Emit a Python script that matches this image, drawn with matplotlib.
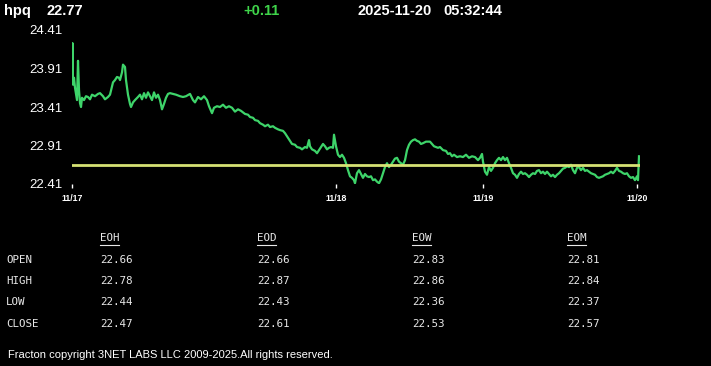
import numpy as np
import matplotlib
matplotlib.use('Agg')
import matplotlib.pyplot as plt
from matplotlib.lines import Line2D

## Quote header
symbol = 'hpq'
last_price = '22.77'
change = '+0.11'
quote_date = '2025-11-20'
quote_time = '05:32:44'

## Intraday trace (time index, price), one list per session
day1 = [(0, 23.76), (0.5, 24.24), (1, 23.70), (2, 23.79), (3, 23.66), (5, 23.50), (6, 24.01), (7, 23.63), (8, 23.46), (9, 23.41),
        (10, 23.53), (12, 23.50), (14, 23.55), (16, 23.54), (18, 23.51), (20, 23.57), (23, 23.55), (26, 23.58), (28, 23.59), (31, 23.55),
        (33, 23.51), (36, 23.54), (38, 23.57), (41, 23.73), (43, 23.76), (45, 23.80), (47, 23.79), (48, 23.76), (50, 23.86), (51, 23.96),
        (53, 23.93), (54, 23.76), (56, 23.57), (58, 23.45), (59, 23.41), (61, 23.47), (63, 23.50), (66, 23.54), (68, 23.57), (70, 23.51),
        (72, 23.59), (74, 23.53), (76, 23.60), (78, 23.55), (80, 23.50), (82, 23.60), (84, 23.53), (86, 23.57), (88, 23.50), (90, 23.38),
        (92, 23.45), (94, 23.53), (96, 23.58), (98, 23.59), (101, 23.58), (104, 23.57), (108, 23.55), (111, 23.54), (114, 23.55), (118, 23.58),
        (121, 23.50), (123, 23.47), (126, 23.54), (129, 23.51), (132, 23.55), (135, 23.50), (137, 23.42), (140, 23.33), (142, 23.40), (145, 23.42),
        (148, 23.41), (151, 23.44), (154, 23.40), (157, 23.42), (160, 23.40), (163, 23.35), (166, 23.38), (169, 23.36), (173, 23.32), (176, 23.31),
        (178, 23.28), (181, 23.27), (183, 23.24), (186, 23.23), (188, 23.20), (191, 23.18), (193, 23.16), (196, 23.18), (198, 23.15), (201, 23.16),
        (203, 23.14), (206, 23.12), (208, 23.11), (211, 23.10), (213, 23.07), (215, 23.03), (217, 22.99), (220, 22.93), (223, 22.92), (225, 22.89),
        (228, 22.88), (230, 22.86), (233, 22.89), (235, 22.88), (237, 22.98), (238, 22.90), (240, 22.86), (243, 22.84), (245, 22.81), (247, 22.85),
        (249, 22.89), (251, 22.93), (253, 22.90), (255, 22.86), (257, 22.88), (259, 22.89), (261, 22.88), (262, 23.05), (264, 22.90)]
day2 = [(266, 22.79), (268, 22.76), (270, 22.79), (272, 22.75), (274, 22.68), (276, 22.59), (278, 22.51), (280, 22.49), (282, 22.46), (283, 22.42),
        (285, 22.55), (287, 22.59), (289, 22.54), (291, 22.49), (293, 22.54), (295, 22.51), (297, 22.50), (299, 22.51), (301, 22.46), (303, 22.47),
        (305, 22.44), (307, 22.42), (309, 22.47), (311, 22.55), (313, 22.63), (315, 22.68), (317, 22.63), (319, 22.66), (321, 22.70), (323, 22.74),
        (325, 22.75), (327, 22.70), (329, 22.68), (331, 22.66), (333, 22.72), (335, 22.85), (337, 22.92), (339, 22.96), (341, 22.98), (343, 22.99),
        (345, 22.97), (347, 22.96), (349, 22.93), (351, 22.94), (354, 22.96), (356, 22.96), (358, 22.96), (360, 22.93), (362, 22.90), (364, 22.89),
        (366, 22.88), (368, 22.89), (371, 22.85), (374, 22.84), (376, 22.80), (378, 22.81), (380, 22.77), (382, 22.79), (385, 22.76), (388, 22.77),
        (391, 22.76), (394, 22.79), (397, 22.75), (400, 22.77), (403, 22.76), (406, 22.72), (408, 22.75), (410, 22.80)]
day3 = [(411, 22.70), (413, 22.57), (415, 22.53), (417, 22.63), (419, 22.58), (421, 22.62), (423, 22.68), (425, 22.72), (427, 22.75), (429, 22.72),
        (431, 22.76), (433, 22.72), (435, 22.75), (437, 22.68), (439, 22.62), (441, 22.55), (443, 22.53), (445, 22.49), (447, 22.54), (449, 22.57),
        (451, 22.54), (453, 22.55), (455, 22.53), (457, 22.50), (459, 22.53), (461, 22.55), (463, 22.54), (465, 22.58), (467, 22.59), (469, 22.55),
        (471, 22.57), (473, 22.54), (475, 22.57), (477, 22.54), (479, 22.51), (481, 22.53), (483, 22.50), (485, 22.53), (487, 22.55), (489, 22.58),
        (491, 22.61), (493, 22.62), (495, 22.64), (497, 22.63), (499, 22.66), (501, 22.59), (503, 22.55), (505, 22.62), (507, 22.63), (509, 22.59),
        (511, 22.62), (513, 22.58), (515, 22.59), (517, 22.57), (519, 22.55), (521, 22.54), (523, 22.53), (525, 22.50), (527, 22.49), (529, 22.50),
        (531, 22.51), (533, 22.53), (535, 22.54), (537, 22.55), (539, 22.57), (541, 22.55), (543, 22.58), (545, 22.62), (547, 22.58), (549, 22.57),
        (551, 22.55), (553, 22.54), (555, 22.55), (557, 22.51), (559, 22.49), (561, 22.50), (563, 22.46), (565, 22.51), (566, 22.46), (567, 22.77)]

open_price = 22.66
y_ticks = [22.41, 22.91, 23.41, 23.91, 24.41]
x_ticks = [0, 264, 411, 565]
x_labels = ['11/17', '11/18', '11/19', '11/20']

## OHLC table
periods = ['EOH', 'EOD', 'EOW', 'EOM']
rows = ['OPEN', 'HIGH', 'LOW', 'CLOSE']
ohlc = {'EOH': [22.66, 22.78, 22.44, 22.47],
        'EOD': [22.66, 22.87, 22.43, 22.61],
        'EOW': [22.83, 22.86, 22.36, 22.53],
        'EOM': [22.81, 22.84, 22.37, 22.57]}

W, H = 711, 366
fig = plt.figure(figsize=(W / 100, H / 100), dpi=100, facecolor='black')

def fx(px):
    return px / W

def fy(py):
    return 1 - py / H

ax = fig.add_axes([fx(72), fy(184), 568 / W, 154 / H])
ax.set_facecolor('black')
for s in ax.spines.values():
    s.set_visible(False)

tr = np.array(day1 + day2 + day3)
ax.plot(tr[:, 0], tr[:, 1], color='#3ed46a', lw=1.6, solid_joinstyle='round')
ax.plot([0, 568], [open_price, open_price], color='#d6e274', lw=2.0)

ax.set_xlim(0, 568)
ax.set_ylim(22.41, 24.41)
ax.set_yticks(y_ticks)
ax.set_yticklabels(['%.2f' % v for v in y_ticks], color='white',
                   fontsize=9.5, family=['Liberation Sans', 'DejaVu Sans'])
ax.tick_params(axis='y', length=0, pad=7)
ax.set_xticks(x_ticks)
ax.set_xticklabels(x_labels, color='white', fontsize=6.3, fontweight='bold',
                   family=['Liberation Sans', 'DejaVu Sans'])
ax.tick_params(axis='x', length=3, width=1, color='white', pad=4, direction='out')

## header
hdr = dict(color='white', fontsize=10.5, fontweight='bold', va='center',
           family=['Liberation Sans Narrow', 'Liberation Sans', 'DejaVu Sans'])
fig.text(fx(4), fy(11), symbol, **hdr)
fig.text(fx(46), fy(11), last_price, **hdr)
fig.text(fx(243), fy(11), change, **dict(hdr, color='#3fd44a'))
fig.text(fx(358), fy(11), quote_date, **hdr)
fig.text(fx(443), fy(11), quote_time, **hdr)

## table
mono = dict(color='#e8e8e8', fontsize=7.8, va='center', family='DejaVu Sans Mono')
col_x = [100, 257, 412, 567]
row_y = [260, 281, 302, 324]
for cx, p in zip(col_x, periods):
    fig.text(fx(cx), fy(238), p, **mono)
    fig.add_artist(Line2D([fx(cx), fx(cx + 19)], [fy(245), fy(245)], color='#e8e8e8', lw=0.8))
    for ry, v in zip(row_y, ohlc[p]):
        fig.text(fx(cx), fy(ry), '%.2f' % v, **mono)
for ry, r in zip(row_y, rows):
    fig.text(fx(6), fy(ry), r, **mono)

fig.text(fx(8), fy(355), 'Fracton copyright 3NET LABS LLC 2009-2025.All rights reserved.',
         color='white', fontsize=8, va='center',
         family=['Liberation Sans Narrow', 'Liberation Sans', 'DejaVu Sans'])

fig.savefig('out.png', dpi=100, facecolor='black')
